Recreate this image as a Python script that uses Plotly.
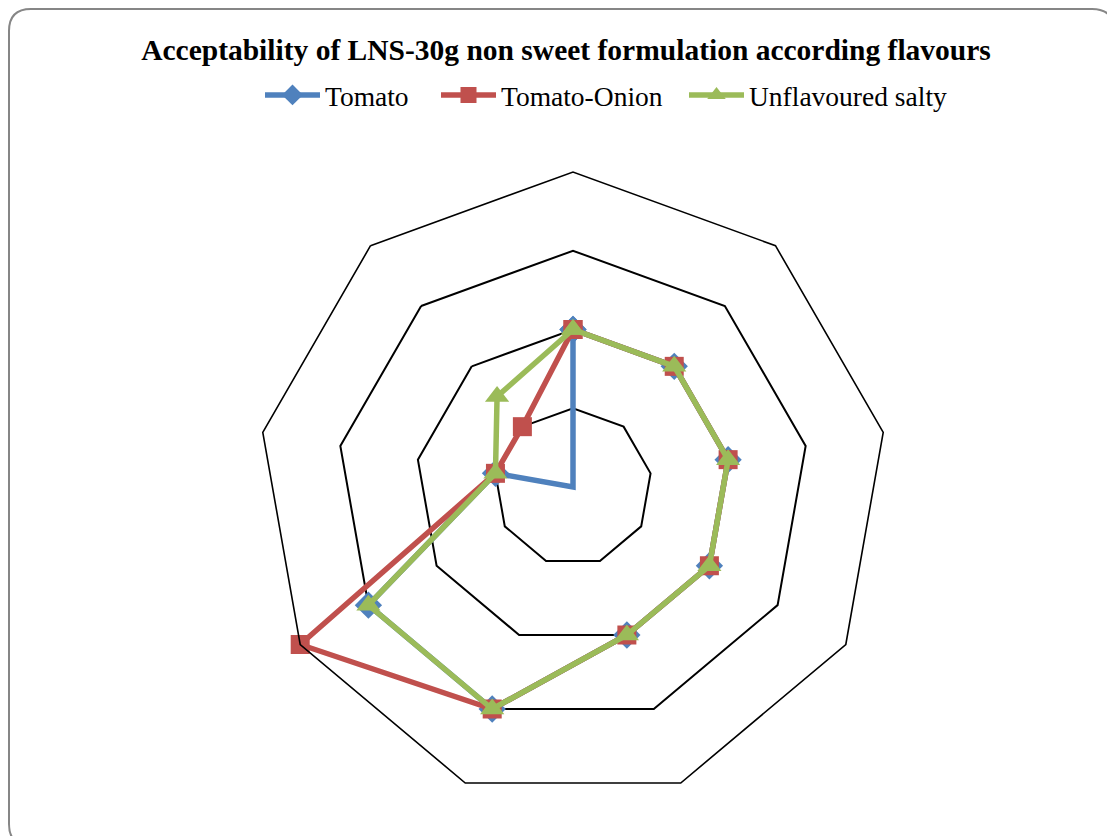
import plotly.graph_objects as go

categories = ["Attribute 1", "Attribute 2", "Attribute 3", "Attribute 4", "Attribute 5",
              "Attribute 6", "Attribute 7", "Attribute 8", "Attribute 9"]
tomato = [2, 2, 2, 2, 2, 3, 3, 1, 0]
tomato_onion = [2, 2, 2, 2, 2, 3, 4, 1, 1]
unflavoured_salty = [2, 2, 2, 2, 2, 3, 3, 1, 1.5]

series = [
    ("Tomato", tomato, "#4F81BD", "diamond", 21, "legend", 265),
    ("Tomato-Onion", tomato_onion, "#C0504D", "square", 19, "legend2", 441),
    ("Unflavoured salty", unflavoured_salty, "#9BBB59", "triangle-up", 21, "legend3", 689),
]

# the page body has an 8px margin; figure sized to fit the window
OFF = 8
W, H = 1107, 828
cx, cy, R = 573, 487, 315
fx = lambda px: (px - OFF) / W
fy = lambda py: 1 - (py - OFF) / H

fig = go.Figure()
legend_layouts = {}
for name, vals, color, sym, size, lg, lx in series:
    fig.add_trace(go.Scatterpolar(
        r=vals + vals[:1],
        theta=categories + categories[:1],
        mode="lines+markers",
        name=name,
        legend=lg,
        showlegend=True,
        line=dict(color=color, width=5.5),
        marker=dict(symbol=sym, size=size, color=color),
        cliponaxis=False,
    ))
    legend_layouts[lg] = dict(
        visible=True,
        orientation="h", x=fx(lx - 5), y=fy(95), xanchor="left", yanchor="middle",
        font=dict(family="Liberation Serif", size=27.5, color="black"),
        itemwidth=55, bgcolor="rgba(0,0,0,0)")

fig.update_layout(
    width=W, height=H,
    showlegend=True,
    margin=dict(l=0, r=0, t=0, b=0),
    paper_bgcolor="white",
    font=dict(family="Liberation Serif", color="black"),
    title=dict(text="<b>Acceptability of LNS-30g non sweet formulation according flavours</b>",
               x=fx(566), y=fy(50), xanchor="center", yanchor="middle",
               font=dict(family="Liberation Serif", size=29.5, color="black")),
    polar=dict(
        domain=dict(x=[fx(cx - R), fx(cx + R)], y=[fy(cy + R), fy(cy - R)]),
        gridshape="linear",
        bgcolor="white",
        radialaxis=dict(range=[0, 4], dtick=1, showgrid=True, gridcolor="black", gridwidth=1.6,
                        showline=False, showticklabels=False, ticks=""),
        angularaxis=dict(direction="clockwise", rotation=90, showgrid=False,
                         showline=True, linecolor="black", linewidth=1.6,
                         showticklabels=False, ticks=""),
    ),
    **legend_layouts,
)

# rounded border rectangle (screen pixel coords converted to paper)
x0, y0, x1, y1, rr = 9, 9, 1114, 846, 22
path = (f"M {fx(x0+rr)},{fy(y0)} L {fx(x1-rr)},{fy(y0)} Q {fx(x1)},{fy(y0)} {fx(x1)},{fy(y0+rr)} "
        f"L {fx(x1)},{fy(y1-rr)} Q {fx(x1)},{fy(y1)} {fx(x1-rr)},{fy(y1)} "
        f"L {fx(x0+rr)},{fy(y1)} Q {fx(x0)},{fy(y1)} {fx(x0)},{fy(y1-rr)} "
        f"L {fx(x0)},{fy(y0+rr)} Q {fx(x0)},{fy(y0)} {fx(x0+rr)},{fy(y0)} Z")
fig.add_shape(type="path", path=path, xref="paper", yref="paper",
              line=dict(color="#868686", width=2), layer="below")

fig.write_html("out.html")
